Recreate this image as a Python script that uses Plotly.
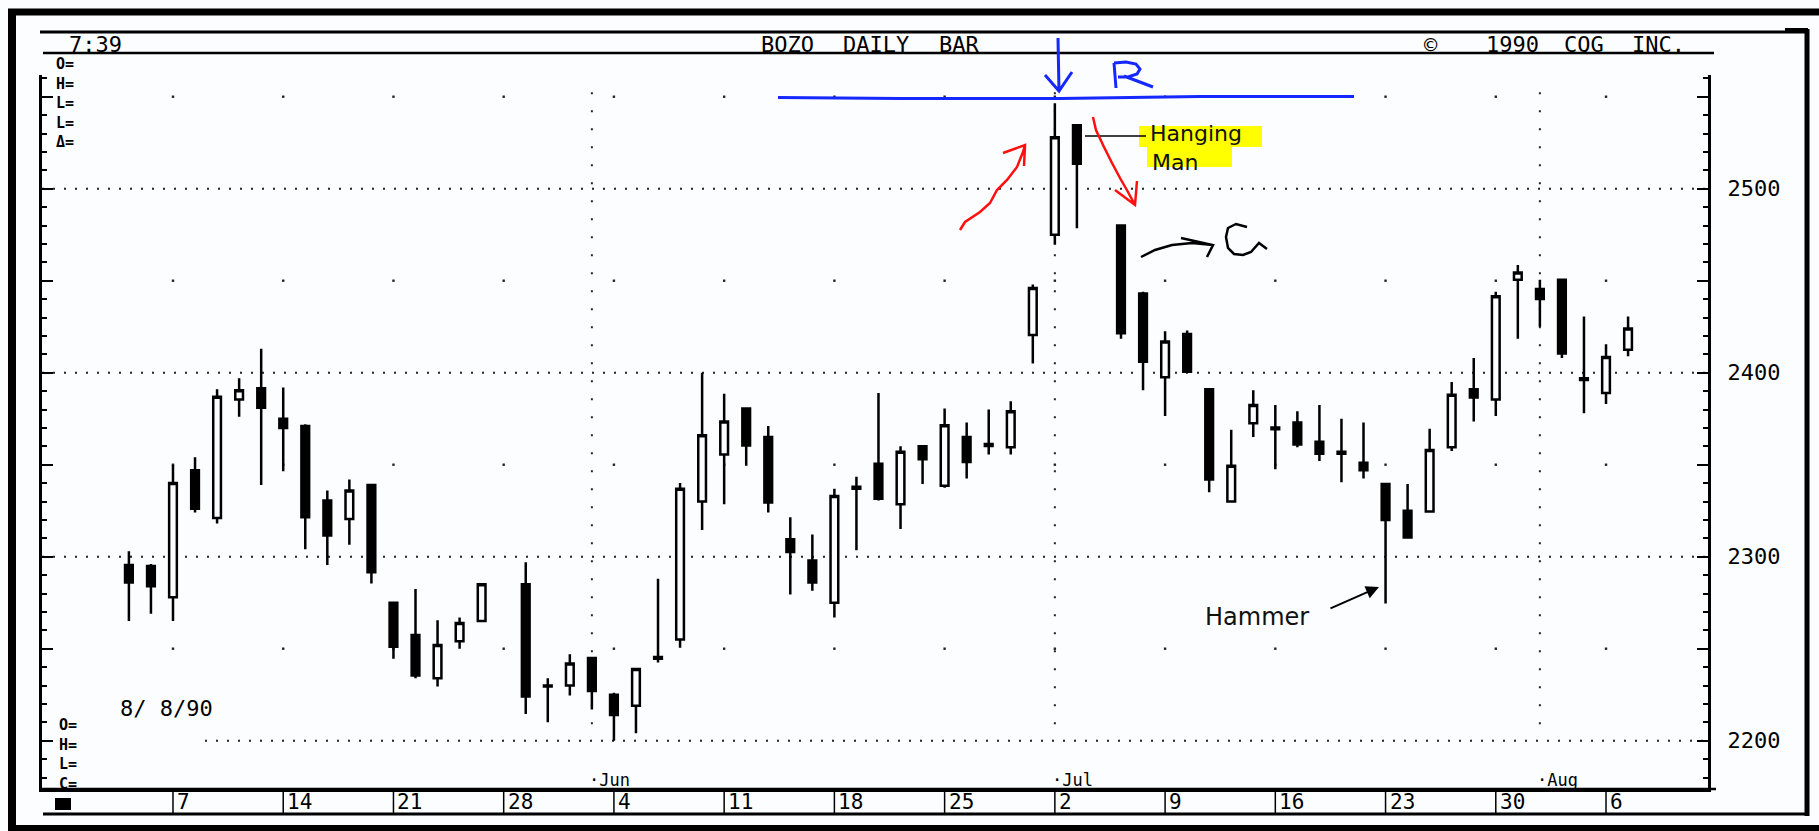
import plotly.graph_objects as go
import pandas as pd

# ---------------- data ----------------
dates = ["1990-05-03", "1990-05-04",
         "1990-05-07", "1990-05-08", "1990-05-09", "1990-05-10", "1990-05-11",
         "1990-05-14", "1990-05-15", "1990-05-16", "1990-05-17", "1990-05-18",
         "1990-05-21", "1990-05-22", "1990-05-23", "1990-05-24", "1990-05-25",
         "1990-05-29", "1990-05-30", "1990-05-31", "1990-06-01",
         "1990-06-04", "1990-06-05", "1990-06-06", "1990-06-07", "1990-06-08",
         "1990-06-11", "1990-06-12", "1990-06-13", "1990-06-14", "1990-06-15",
         "1990-06-18", "1990-06-19", "1990-06-20", "1990-06-21", "1990-06-22",
         "1990-06-25", "1990-06-26", "1990-06-27", "1990-06-28", "1990-06-29",
         "1990-07-02", "1990-07-03", "1990-07-05", "1990-07-06",
         "1990-07-09", "1990-07-10", "1990-07-11", "1990-07-12", "1990-07-13",
         "1990-07-16", "1990-07-17", "1990-07-18", "1990-07-19", "1990-07-20",
         "1990-07-23", "1990-07-24", "1990-07-25", "1990-07-26", "1990-07-27",
         "1990-07-30", "1990-07-31", "1990-08-01", "1990-08-02", "1990-08-03",
         "1990-08-06", "1990-08-07"]
opens = [2295.5, 2295,
         2278, 2347, 2321, 2385.5, 2391.5,
         2375, 2371, 2330.5, 2320.5, 2339,
         2275, 2257.5, 2234, 2254, 2265,
         2285, 2229.5, 2230, 2245,
         2225, 2219, 2244.5, 2255, 2330,
         2355.5, 2380.5, 2365, 2309.5, 2298,
         2275, 2338, 2350.5, 2328.5, 2360,
         2338.5, 2365, 2361.2, 2359.5, 2420.5,
         2475, 2534.5, 2480, 2443,
         2397.5, 2421, 2391, 2330, 2372.5,
         2369.3, 2373, 2362.5, 2357, 2351,
         2339.5, 2325, 2324.5, 2359.5, 2391,
         2385.5, 2450.5, 2445.5, 2450.5, 2397,
         2389, 2412.5]
highs = [2303, 2296,
         2350, 2354, 2391, 2397, 2413,
         2392, 2372, 2336, 2342, 2339.5,
         2275.5, 2282.5, 2265.5, 2267, 2285.5,
         2297, 2234, 2247, 2245.5,
         2226, 2239.5, 2288, 2340, 2400,
         2388.5, 2381, 2371, 2321.5, 2312,
         2337, 2343.5, 2389, 2360, 2360.5,
         2380.5, 2373, 2380, 2384.5, 2448,
         2546.5, 2535, 2480.5, 2444,
         2422.5, 2423, 2391.5, 2369, 2390.5,
         2382.5, 2379, 2382.5, 2375, 2373,
         2340, 2339.5, 2369.5, 2395, 2408,
         2444, 2458.5, 2450.5, 2451, 2430.5,
         2415.5, 2430.5]
lows = [2265, 2269,
        2265, 2324, 2318, 2376, 2339,
        2346.5, 2304, 2295.5, 2306.5, 2285.5,
        2244.5, 2234, 2229.5, 2250, 2264.5,
        2214.5, 2210, 2224.5, 2217,
        2200, 2204, 2242.5, 2250.5, 2314.5,
        2328.5, 2349.5, 2324, 2279.5, 2281.5,
        2267, 2303.5, 2330.5, 2315, 2339.5,
        2337.5, 2342.5, 2355.5, 2355.5, 2405,
        2469.5, 2478.5, 2418.5, 2390.5,
        2376.5, 2400, 2335, 2329.5, 2365,
        2347.5, 2359.5, 2352, 2340.5, 2342.5,
        2274.5, 2310, 2324, 2357.5, 2373.5,
        2376.5, 2418.5, 2425, 2408, 2378,
        2383, 2409]
closes = [2286, 2284,
          2340, 2326, 2387, 2390.5, 2381,
          2370, 2321.5, 2311.5, 2336, 2291.5,
          2251, 2235.5, 2252, 2264, 2285,
          2224, 2230, 2242, 2227,
          2214, 2239, 2245.5, 2337, 2366,
          2373.5, 2360.5, 2329.5, 2302.5, 2286,
          2333, 2337, 2331.5, 2357, 2353,
          2371.5, 2351.5, 2360.2, 2379, 2446,
          2528, 2513.5, 2421.5, 2406,
          2417, 2400.5, 2342, 2349.5, 2382.5,
          2370.2, 2361, 2356, 2356, 2347,
          2320, 2310.5, 2358, 2388, 2386.5,
          2441.5, 2454.5, 2440, 2410.5, 2396,
          2408.5, 2424]

week_starts = ["1990-05-07", "1990-05-14", "1990-05-21", "1990-05-28", "1990-06-04",
               "1990-06-11", "1990-06-18", "1990-06-25", "1990-07-02", "1990-07-09",
               "1990-07-16", "1990-07-23", "1990-07-30", "1990-08-06"]
week_labels = ["7", "14", "21", "28", "4", "11", "18", "25", "2", "9", "16", "23", "30", "6"]
month_starts = ["1990-06-01", "1990-07-02", "1990-08-01"]
month_labels = ["Jun", "Jul", "Aug"]
price_labels = [2200, 2300, 2400, 2500]
half_levels = [2250, 2350, 2450, 2550]

# ---------------- geometry helpers ----------------
FIG_W, FIG_H = 1819, 831
PL, PR, PT, PB = 42, 1708, 75, 789
Y_RANGE = [2173.75, 2561.8]
X_RANGE = ["1990-04-27 13:24", "1990-08-13 03:01"]
BG = "#fbfdfe"
MONO = "DejaVu Sans Mono"
SANS = "DejaVu Sans"


def fx(x):
    return (x - PL) / (PR - PL)


def fy(y):
    return (PB - y) / (PB - PT)


def poly(*segments):
    parts = []
    for seg in segments:
        parts.append("M " + " L ".join(f"{fx(x):.5f},{fy(y):.5f}" for x, y in seg))
    return " ".join(parts)


def noon(d):
    return (pd.Timestamp(d) + pd.Timedelta(hours=12)).strftime("%Y-%m-%d %H:%M")


xs = [noon(d) for d in dates]
wk = [noon(d) for d in week_starts]
mo = [noon(d) for d in month_starts]

fig = go.Figure()
fig.add_trace(go.Candlestick(
    x=xs, open=opens, high=highs, low=lows, close=closes,
    increasing=dict(line=dict(color="black", width=2.5), fillcolor=BG),
    decreasing=dict(line=dict(color="black", width=2.5), fillcolor="black"),
    whiskerwidth=0, showlegend=False, hoverinfo="skip",
))

shapes = []


def pline(x0, y0, x1, y1, w, color="black", dash=None):
    d = dict(type="line", xref="paper", yref="paper", x0=fx(x0), y0=fy(y0), x1=fx(x1), y1=fy(y1),
             line=dict(color=color, width=w))
    if dash:
        d["line"]["dash"] = dash
    shapes.append(d)


# dotted price gridlines
for v in price_labels:
    shapes.append(dict(type="line", xref="paper", yref="y", x0=fx(205) if v == 2200 else 0, x1=1,
                       y0=v, y1=v, layer="below", line=dict(color="#222", width=2, dash="2px,9px")))
# half-level dots at week starts
for w in wk:
    for v in half_levels:
        shapes.append(dict(type="rect", xref="x", yref="y", xsizemode="pixel", ysizemode="pixel",
                           xanchor=w, yanchor=v, x0=-1.2, x1=1.2, y0=-1.2, y1=1.2, layer="below",
                           fillcolor="#222", line=dict(width=0)))
# month dotted vertical lines
for m in mo:
    shapes.append(dict(type="line", xref="x", yref="y", x0=m, x1=m, y0=2209, y1=2559, layer="below",
                       line=dict(color="#222", width=2, dash="2px,16px")))
# week separators in the date row
for w in wk:
    shapes.append(dict(type="line", xref="x", yref="paper", x0=w, x1=w, y0=fy(789), y1=fy(814),
                       line=dict(color="black", width=1.5)))

# frame & header rules
pline(8, 12, 1819, 12, 7)
pline(12, 9, 12, 831, 8)
pline(8, 828, 1819, 828, 6)
pline(1807, 29, 1807, 816, 5)
pline(1785, 30, 1808, 30, 4)
pline(40, 32, 1807, 32, 3)
pline(43, 53, 1714, 53, 2.5)
pline(42, 789, 1716, 789, 2.5)
pline(43, 814, 1808, 814, 3)
shapes.append(dict(type="rect", xref="paper", yref="paper", x0=fx(55), x1=fx(71), y0=fy(798), y1=fy(810),
                   fillcolor="black", line=dict(width=0)))

# yellow highlights for the Hanging Man label
shapes.append(dict(type="rect", xref="paper", yref="paper", x0=fx(1139), x1=fx(1262), y0=fy(126), y1=fy(147),
                   fillcolor="#ffff00", line=dict(width=0)))
shapes.append(dict(type="rect", xref="paper", yref="paper", x0=fx(1147), x1=fx(1232), y0=fy(147), y1=fy(167),
                   fillcolor="#ffff00", line=dict(width=0)))
pline(1085, 136, 1146, 136, 1.5)

BLUE = "#1428ff"
RED = "#ff1010"


def pathshape(p, color, w):
    shapes.append(dict(type="path", xref="paper", yref="paper", path=p,
                       line=dict(color=color, width=w)))


# blue resistance line, arrow and R
pathshape(poly([(778, 97.5), (900, 98.5), (1060, 98.5), (1200, 96.5), (1354, 96.5)]), BLUE, 3)
pathshape(poly([(1058, 38), (1059, 91)], [(1045, 75), (1059, 91), (1072, 72)]), BLUE, 3)
pathshape(poly([(1114, 63), (1116, 88)],
               [(1114, 63), (1126, 62), (1136, 64), (1140, 69), (1137, 74), (1128, 77), (1118, 77)],
               [(1124, 76), (1153, 87)]), BLUE, 3)
# red arrows
pathshape(poly([(960, 230), (965, 222), (980, 212), (990, 203), (997, 190), (1007, 180), (1017, 167),
                (1023, 152), (1025, 145)],
               [(1003, 153), (1025, 145), (1024, 166)]), RED, 2.5)
pathshape(poly([(1093, 117), (1096, 130), (1104, 147), (1112, 163), (1120, 178), (1128, 192), (1135, 205)],
               [(1115, 190), (1135, 205), (1137, 181)]), RED, 2.5)
# black arrow and "C"
pathshape(poly([(1141, 257), (1155, 250), (1172, 245), (1192, 243), (1213, 245)],
               [(1181, 238), (1213, 245), (1207, 257)]), "black", 2.5)
pathshape(poly([(1247, 227), (1236, 224), (1228, 228), (1226, 237), (1228, 248), (1234, 254),
                (1243, 255), (1251, 252), (1259, 243), (1267, 249)]), "black", 2.5)

annotations = []


def text(t, x, y, size, family=MONO, anchor="center", color="black", bold=False, yanchor="middle",
         align="center"):
    annotations.append(dict(text=f"<b>{t}</b>" if bold else t, xref="paper", yref="paper",
                            x=fx(x), y=fy(y), xanchor=anchor, yanchor=yanchor, showarrow=False,
                            align=align, font=dict(family=family, size=size, color=color)))


# header
for t, cx in [("7:39", 95), ("BOZO", 787), ("DAILY", 876), ("BAR", 959),
              ("©", 1431), ("1990", 1512), ("CQG", 1584), ("INC.", 1658)]:
    text(t, cx, 45, 22)
# left info labels (stacked blocks)
text("O=<br>H=<br>L=<br>L=<br>Δ=", 54, 103, 15, anchor="left", bold=True, align="left")
text("8/ 8/90", 166, 708, 22)
text("O=<br>H=<br>L=<br>C=", 57, 754, 15, anchor="left", bold=True, align="left")

# week labels and month labels
for w, lab in zip(wk, week_labels):
    annotations.append(dict(text=lab, xref="x", yref="paper", x=w, y=fy(802), xanchor="left",
                            yanchor="middle", xshift=2, showarrow=False,
                            font=dict(family=MONO, size=21, color="black")))
for m, lab in zip(mo, month_labels):
    annotations.append(dict(text="·" + lab, xref="x", yref="paper", x=m, y=fy(780), xanchor="left",
                            yanchor="middle", xshift=-5, showarrow=False,
                            font=dict(family=MONO, size=17, color="black")))

# pattern labels
text("Hanging", 1148, 148, 22, family=SANS, anchor="left", color="#111", yanchor="bottom")
text("Man", 1150, 148, 22, family=SANS, anchor="left", color="#111", yanchor="top")
text("Hammer", 1203, 617, 24, family=SANS, anchor="left", color="#111")
annotations.append(dict(text="", xref="paper", yref="paper", x=fx(1379), y=fy(587), ax=-50, ay=22,
                        showarrow=True, arrowhead=2, arrowsize=1.3, arrowwidth=2, arrowcolor="black"))

fig.update_layout(
    width=FIG_W, height=FIG_H,
    margin=dict(l=PL, r=FIG_W - PR, t=PT, b=FIG_H - PB, autoexpand=False),
    paper_bgcolor=BG, plot_bgcolor=BG,
    boxgap=0.5,
    showlegend=False,
    xaxis=dict(type="date", range=X_RANGE, rangebreaks=[dict(bounds=["sat", "mon"])],
               showgrid=False, showticklabels=False, ticks="", zeroline=False,
               showline=True, linewidth=2.5, linecolor="black",
               rangeslider=dict(visible=False), fixedrange=True),
    yaxis=dict(side="right", range=Y_RANGE, tickmode="array",
               tickvals=[2200, 2250, 2300, 2350, 2400, 2450, 2500, 2550],
               ticktext=["2200", "", "2300", "", "2400", "", "2500", ""],
               ticks="inside", ticklen=11, tickwidth=2, tickcolor="black",
               minor=dict(ticks="inside", tickmode="linear", tick0=2200, dtick=10, ticklen=5,
                          tickwidth=1.5, tickcolor="black", showgrid=False),
               showline=True, linewidth=3, linecolor="black", mirror="ticks",
               showgrid=False, zeroline=False,
               tickfont=dict(family=MONO, size=22, color="black"),
               ticklabelstandoff=12, fixedrange=True),
    shapes=shapes,
    annotations=annotations,
)

fig.write_html("out.html", config={"displayModeBar": False},
               post_script="document.body.style.margin='0';document.body.style.overflow='hidden';")
